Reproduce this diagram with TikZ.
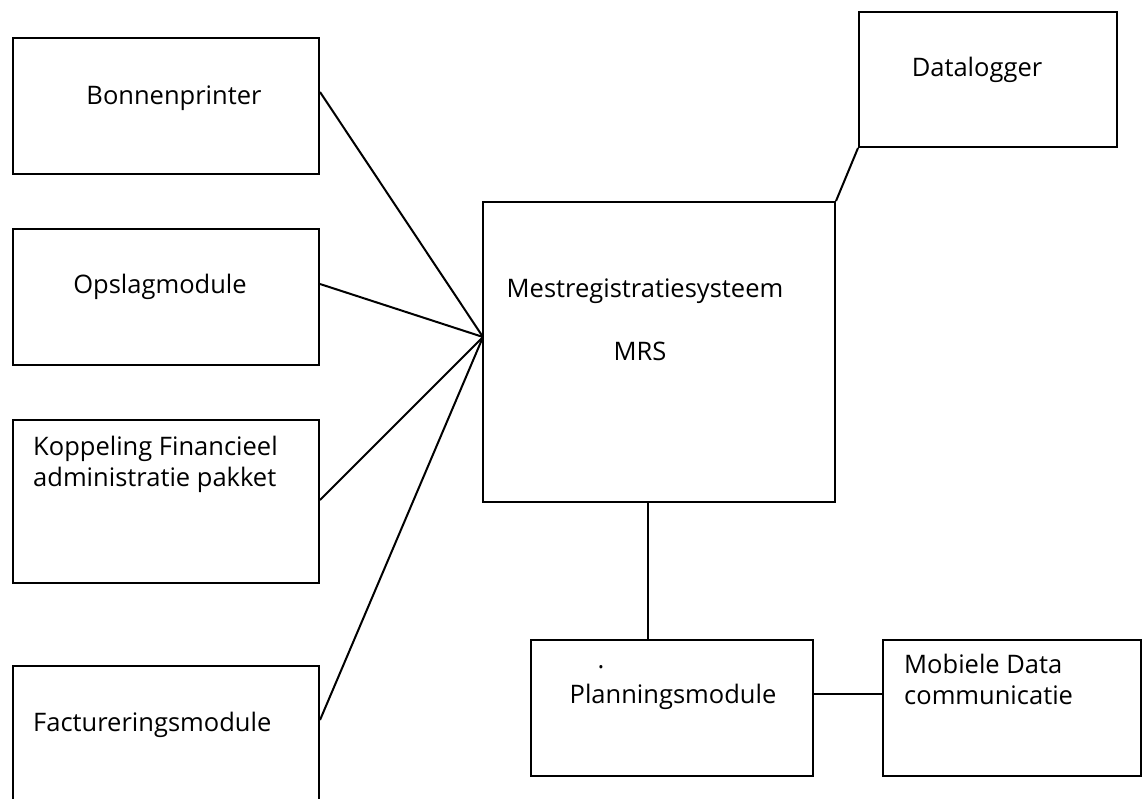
\documentclass[tikz,border=0pt]{standalone}
\usepackage{fontspec}
\setmainfont{Open Sans}
\usepackage{tikz}
\usetikzlibrary{positioning, calc}

\tikzset{
  module/.style={draw=black, line width=2pt, rectangle, inner sep=0pt},
  label/.style={font=\fontsize{25.5}{31}\selectfont, inner sep=0pt},
  link/.style={draw=black, line width=2pt}
}

\begin{document}
\begin{tikzpicture}[x=1pt, y=-1pt]
  \useasboundingbox (0,0) rectangle (1145,798);
  \clip (0,0) rectangle (1145,798);

  % Left column of modules
  \node[module, minimum width=306.5pt, minimum height=136pt] (bon) at (165.75,105.5) {};
  \node[module, minimum width=306.5pt, minimum height=136pt] (ops) at (165.75,297) {};
  \node[module, minimum width=306.5pt, minimum height=163pt] (kop) at (165.75,501.5) {};
  \node[module, minimum width=306.5pt, minimum height=164pt] (fac) at (165.75,748) {};

  \node[label, anchor=base] (bontxt) at (174,104) {Bonnenprinter};
  \node[label, anchor=base] (opstxt) at (160,293) {Opslagmodule};
  \node[label, anchor=base west, align=left] (koptxt) at (33,486) {Koppeling Financieel\\administratie pakket};
  \node[label, anchor=base west] (factxt) at (33,731) {Factureringsmodule};

  % Central system
  \node[module, minimum width=352pt, minimum height=300pt] (mrs) at (659,352) {};
  \node[label, anchor=base] (mrstxt) at (645,297) {Mestregistratiesysteem};
  \node[label, anchor=base] (mrsabbr) at (640,360) {MRS};
  \coordinate (hub) at (483,337);

  % Right side
  \node[module, minimum width=258pt, minimum height=135pt] (dat) at (988,79.5) {};
  \node[label, anchor=base] (dattxt) at (977,76) {Datalogger};

  \node[module, minimum width=282pt, minimum height=136pt] (plan) at (672,708) {};
  \node[label, anchor=base] (dot) at (601,668) {.};
  \node[label, anchor=base] (plantxt) at (673,703) {Planningsmodule};

  \node[module, minimum width=258pt, minimum height=136pt] (mob) at (1012,708) {};
  \node[label, anchor=base west, align=left] (mobtxt) at (904,704) {Mobiele Data\\communicatie};

  % Connections
  \draw[link] ([yshift=13.5pt]bon.east) -- (hub);
  \draw[link] ([yshift=13pt]ops.east) -- (hub);
  \draw[link] ([yshift=1.5pt]kop.east) -- (hub);
  \draw[link] ([yshift=28pt]fac.east) -- (hub);
  \draw[link] (dat.south west) -- (mrs.north east);
  \draw[link] ([xshift=-11pt]mrs.south) coordinate (drop) -- (drop |- plan.north);
  \draw[link] ([yshift=14pt]plan.east) -- ([yshift=14pt]mob.west);
\end{tikzpicture}
\end{document}
